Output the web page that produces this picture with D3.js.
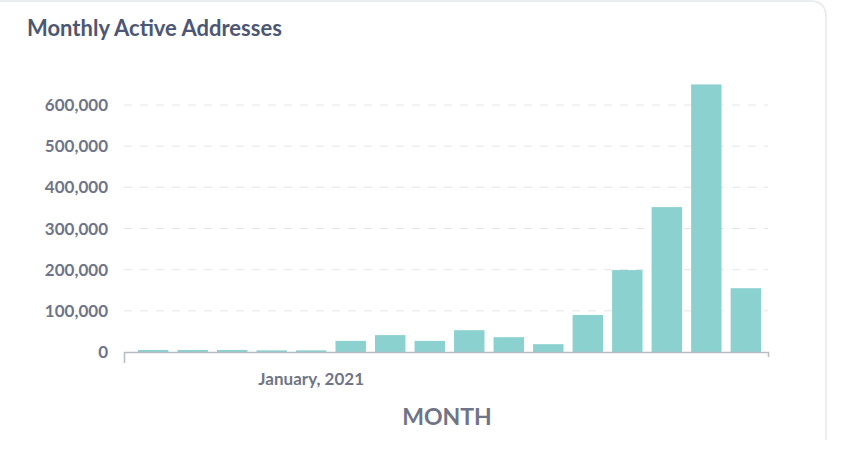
<!DOCTYPE html>
<html><head><meta charset="utf-8">
<script src="https://cdn.jsdelivr.net/npm/d3@7"></script>
<style>
body{margin:0;background:#fff;font-family:Lato,sans-serif;}
</style></head>
<body><div id="chart"></div>
<script>
// Monthly active addresses, one bar per month
var months = ["2020-09","2020-10","2020-11","2020-12","2021-01","2021-02","2021-03","2021-04",
              "2021-05","2021-06","2021-07","2021-08","2021-09","2021-10","2021-11","2021-12"];
var activeAddresses = [5000, 5000, 5000, 4000, 4000, 27000, 41000, 27000,
                       53000, 36000, 19000, 90000, 199000, 352000, 650000, 155000];
var yTicks = [0, 100000, 200000, 300000, 400000, 500000, 600000];

var svg = d3.select("#chart").append("svg").attr("width", 854).attr("height", 450);

// card edge on the right
svg.append("path")
    .attr("d", "M0,1 H810 Q826,1 826,17 V440")
    .attr("fill", "none").attr("stroke", "#e6e8ec").attr("stroke-width", 1.5);

svg.append("text").attr("x", 27).attr("y", 36)
    .attr("font-size", 22).attr("font-weight", 700).attr("fill", "#4c5773")
    .text("Monthly Active Addresses");

var x = d3.scaleBand().domain(months).range([134, 765]).paddingInner(0.23).paddingOuter(0.1);
var y = d3.scaleLinear().domain([0, 600000]).range([352, 105]);

// dashed gridlines
svg.selectAll(".grid").data(yTicks.slice(1)).enter().append("line")
    .attr("x1", 124).attr("x2", 768)
    .attr("y1", function(d) { return y(d); }).attr("y2", function(d) { return y(d); })
    .attr("stroke", "#e3e5e9").attr("stroke-dasharray", "8,8");

svg.selectAll(".ylab").data(yTicks).enter().append("text")
    .attr("x", 108).attr("y", function(d) { return y(d) + 6; })
    .attr("text-anchor", "end").attr("font-size", 17).attr("font-weight", 700).attr("fill", "#6f7587")
    .text(function(d) { return d3.format(",")(d); });

svg.selectAll("rect").data(activeAddresses).enter().append("rect")
    .attr("x", function(d, i) { return x(months[i]); })
    .attr("width", x.bandwidth())
    .attr("y", function(d) { return y(d); })
    .attr("height", function(d) { return y(0) - y(d); })
    .attr("fill", "#8bd1cf");

// x axis line
svg.append("path").attr("d", "M124.5,363 V352.5 H768.5 V357")
    .attr("fill", "none").attr("stroke", "#b8bbc3").attr("stroke-width", 1.5);

svg.append("text").attr("x", x("2021-01") + x.bandwidth() / 2).attr("y", 385)
    .attr("text-anchor", "middle").attr("font-size", 17).attr("font-weight", 700).attr("fill", "#6f7587")
    .text("January, 2021");

svg.append("text").attr("x", 447).attr("y", 425)
    .attr("text-anchor", "middle").attr("font-size", 23).attr("font-weight", 700).attr("fill", "#6f7587")
    .text("MONTH");
</script></body></html>
